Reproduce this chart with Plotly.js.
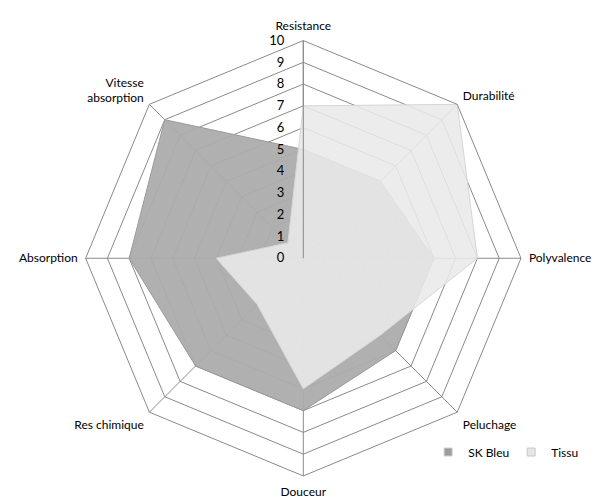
<!DOCTYPE html>
<html>
<head>
<meta charset="utf-8">
<script src="https://cdn.plot.ly/plotly-3.0.1.min.js"></script>
<style>html,body{margin:0;padding:0;background:#fff;}#chart{width:603px;height:500px;}</style>
</head>
<body>
<div id="chart"></div>
<script>
var categories = ["Resistance", "Durabilité", "Polyvalence", "Peluchage", "Douceur", "Res chimique", "Absorption", "Vitesse<br>absorption"];
var skBleu = [5, 5, 6, 6, 7, 7, 8, 9];
var tissu = [7, 10, 8, 5, 6, 3, 4, 1];
var radialTicks = [0, 1, 2, 3, 4, 5, 6, 7, 8, 9, 10];
var seriesNames = ["SK Bleu", "Tissu"];

function closed(a) { return a.concat([a[0]]); }

var traces = [
  {
    type: "scatterpolar",
    name: seriesNames[0],
    r: closed(skBleu),
    theta: closed(categories),
    fill: "toself",
    fillcolor: "rgba(172,172,172,0.95)",
    line: {color: "#9a9a9a", width: 1},
    mode: "lines",
    showlegend: false,
    hoverinfo: "skip"
  },
  {
    type: "scatterpolar",
    name: seriesNames[1],
    r: closed(tissu),
    theta: closed(categories),
    fill: "toself",
    fillcolor: "rgba(233,233,233,0.88)",
    line: {color: "#d6d6d6", width: 1},
    mode: "lines",
    showlegend: false,
    hoverinfo: "skip"
  },
  {
    type: "scatterpolar",
    name: seriesNames[0],
    r: [null],
    theta: [categories[0]],
    mode: "markers",
    marker: {symbol: "square", size: 8, color: "#9c9c9c", line: {color: "#d0d0d0", width: 1}},
    showlegend: true,
    hoverinfo: "skip"
  },
  {
    type: "scatterpolar",
    name: seriesNames[1],
    r: [null],
    theta: [categories[0]],
    mode: "markers",
    marker: {symbol: "square", size: 8, color: "#e6e6e6", line: {color: "#c8c8c8", width: 1}},
    showlegend: true,
    hoverinfo: "skip"
  }
];

var layout = {
  width: 603,
  height: 500,
  margin: {l: 0, r: 0, t: 0, b: 0, autoexpand: false},
  paper_bgcolor: "#ffffff",
  font: {family: "Lato, 'Open Sans', sans-serif", size: 12, color: "#000"},
  showlegend: true,
  legend: {
    orientation: "h",
    x: 0.71, y: 0.125, xanchor: "left", yanchor: "top",
    font: {size: 12, color: "#000"},
    itemwidth: 30,
    entrywidth: 38,
    tracegroupgap: 0
  },
  polar: {
    domain: {x: [0.142, 0.864], y: [0.048, 0.919]},
    bgcolor: "#ffffff",
    gridshape: "linear",
    angularaxis: {
      rotation: 90,
      direction: "clockwise",
      linecolor: "#8a8a8a",
      linewidth: 1,
      gridcolor: "#8a8a8a",
      gridwidth: 1,
      ticks: "outside",
      ticklen: 5,
      tickcolor: "rgba(0,0,0,0)",
      tickfont: {size: 12, color: "#000"}
    },
    radialaxis: {
      range: [0, 10],
      angle: 90,
      tickangle: 90,
      side: "counterclockwise",
      tickvals: radialTicks,
      ticktext: radialTicks.map(String),
      showline: true,
      linecolor: "#8a8a8a",
      gridcolor: "#8a8a8a",
      gridwidth: 1,
      ticks: "outside",
      ticklen: 14,
      tickcolor: "rgba(0,0,0,0)",
      tickfont: {size: 13, color: "#000"}
    }
  }
};

Plotly.newPlot("chart", traces, layout, {displayModeBar: false, staticPlot: true});
</script>
</body>
</html>
